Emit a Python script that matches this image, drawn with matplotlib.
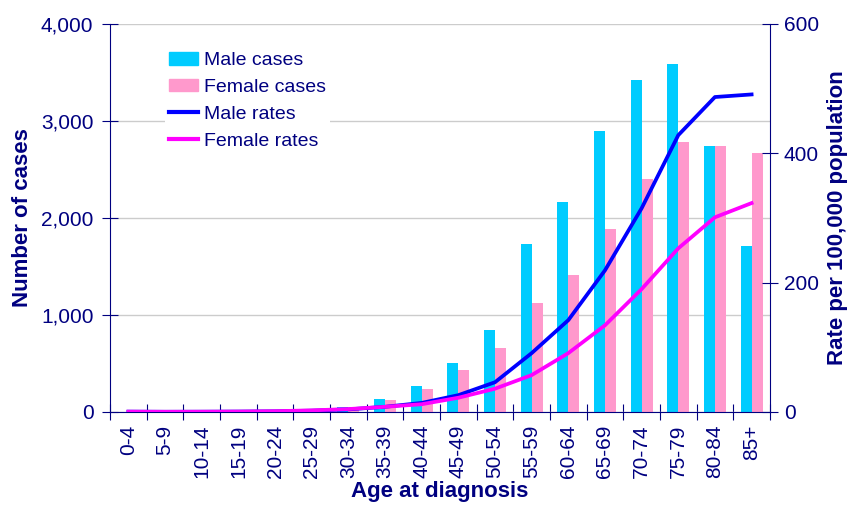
import matplotlib
matplotlib.use("Agg")
import matplotlib.pyplot as plt
import numpy as np
from matplotlib.patches import Patch
from matplotlib.lines import Line2D

plt.rcParams['font.family'] = ['Liberation Sans', 'DejaVu Sans']

ages = ["0-4", "5-9", "10-14", "15-19", "20-24", "25-29", "30-34", "35-39", "40-44",
        "45-49", "50-54", "55-59", "60-64", "65-69", "70-74", "75-79", "80-84", "85+"]
male_cases = [2, 2, 3, 4, 6, 12, 50, 135, 270, 505, 845, 1730, 2165, 2895, 3420, 3590, 2745, 1710]
female_cases = [2, 2, 3, 4, 8, 15, 45, 125, 240, 435, 660, 1125, 1410, 1885, 2400, 2785, 2745, 2670]
male_rates = [0.5, 0.3, 0.4, 0.6, 1.0, 2.0, 4, 8, 14, 26, 46, 91, 142, 219, 315, 428, 487, 491]
female_rates = [0.5, 0.3, 0.4, 0.6, 1.2, 2.5, 4.5, 8, 12, 22, 36, 57, 91, 134, 190, 253, 301, 323]

navy = "#000080"
fig = plt.figure(figsize=(8.47, 5.16), dpi=100)
ax = fig.add_axes([0.130, 0.2016, 0.779, 0.752])
x = np.arange(len(ages))
w = 0.3
ax.bar(x - w / 2, male_cases, width=w, color="#00CCFF", zorder=2)
ax.bar(x + w / 2, female_cases, width=w, color="#FF99CC", zorder=2)
ax.set_ylim(0, 4000)
ax.set_xlim(-0.5, len(ages) - 0.5)
ax.set_yticks([0, 1000, 2000, 3000, 4000])
ax.set_yticklabels(["0", "1,000", "2,000", "3,000", "4,000"], fontsize=15, color=navy)
ax.yaxis.grid(True, color="#CCCCCC", linewidth=1, zorder=0)
ax.set_axisbelow(True)
ax.set_xticks(np.arange(-0.5, len(ages), 1.0), minor=False)
ax.set_xticklabels([])
ax.set_xticks(x, minor=True)
ax.set_xticklabels(ages, minor=True, rotation=90, fontsize=15, color=navy)
ax.tick_params(axis="x", which="minor", length=0, pad=9)
ax.tick_params(axis="x", which="major", direction="inout", length=12, color=navy)
ax.tick_params(axis="y", direction="inout", length=12, color=navy, pad=6)
for s in ["top", "right"]:
    ax.spines[s].set_visible(False)
for s in ["left", "bottom"]:
    ax.spines[s].set_color(navy)
ax.set_ylabel("Number of cases", fontsize=16, fontweight="bold", color=navy, labelpad=6)
ax.set_xlabel("Age at diagnosis", fontsize=16, fontweight="bold", color=navy, labelpad=2)

ax2 = ax.twinx()
ax2.plot(x, male_rates, color="#0000FF", linewidth=2.7, zorder=3)
ax2.plot(x, female_rates, color="#FF00FF", linewidth=2.7, zorder=3)
ax2.set_ylim(0, 600)
ax2.set_yticks([0, 200, 400, 600])
ax2.set_yticklabels(["0", "200", "400", "600"], fontsize=15, color=navy)
ax2.tick_params(axis="y", direction="inout", length=12, color=navy, pad=4)
for s in ["top", "left", "bottom"]:
    ax2.spines[s].set_visible(False)
ax2.spines["right"].set_color(navy)
ax2.set_ylabel("Rate per 100,000 population", fontsize=16, fontweight="bold", color=navy, labelpad=6)

handles = [Patch(color="#00CCFF"), Patch(color="#FF99CC"),
           Line2D([], [], color="#0000FF", linewidth=3),
           Line2D([], [], color="#FF00FF", linewidth=3)]
labels = ["Male cases", "Female cases", "Male rates", "Female rates"]
leg = ax2.legend(handles, labels, loc="upper left", bbox_to_anchor=(0.083, 0.937),
                 fontsize=14, frameon=True, fancybox=False, edgecolor="none",
                 framealpha=1, handlelength=1.5, handleheight=0.6, labelspacing=0.5,
                 handletextpad=0.3, borderpad=0.2, borderaxespad=0)
for t in leg.get_texts():
    t.set_color(navy)
fig.savefig("out.png", dpi=100)
